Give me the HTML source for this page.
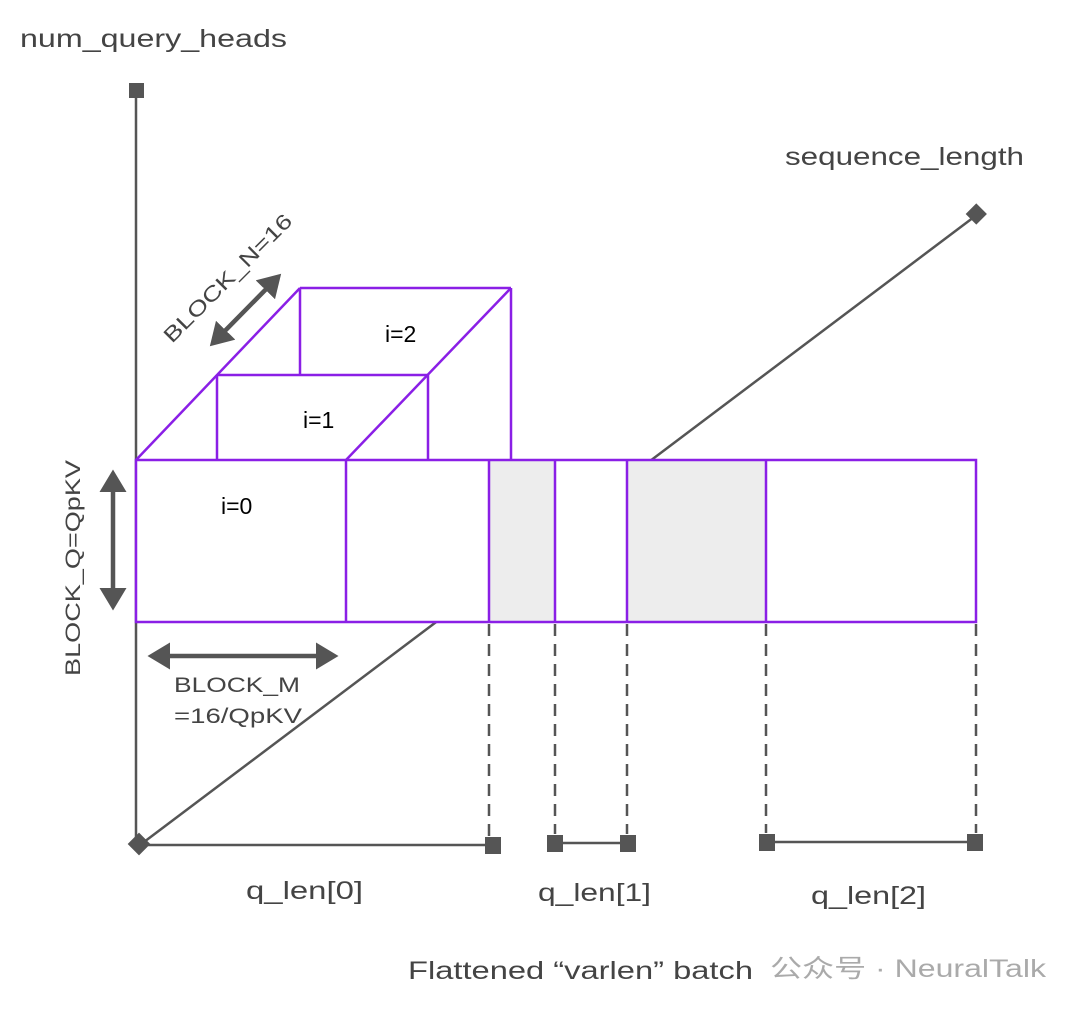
<!DOCTYPE html>
<html><head><style>body{margin:0;background:#fff}svg{display:block}</style></head><body>
<svg width="1080" height="1011" xmlns="http://www.w3.org/2000/svg" font-family="Liberation Sans, DejaVu Sans, sans-serif">
<defs>
<marker id="ah" markerWidth="6" markerHeight="6" refX="4" refY="3" orient="auto-start-reverse" markerUnits="strokeWidth"><path d="M0,0 L5,3 L0,6 z" fill="#555"/></marker>
</defs>
<g stroke="#555" stroke-width="2.5" fill="none">
<line x1="136" y1="90" x2="136" y2="845"/>
<line x1="140" y1="845" x2="978" y2="214"/>
<line x1="140" y1="845" x2="492" y2="845"/>
<line x1="555" y1="843" x2="628" y2="843"/>
<line x1="767" y1="842" x2="975" y2="842"/>
</g>
<g fill="#555">
<rect x="129" y="83" width="15" height="15"/>
<rect x="131" y="836" width="16" height="16" transform="rotate(45 139 844)"/>
<rect x="485" y="837" width="16" height="17"/>
<rect x="547" y="835" width="16" height="17"/>
<rect x="620" y="835" width="16" height="17"/>
<rect x="759" y="834" width="16" height="17"/>
<rect x="967" y="834" width="16" height="17"/>
<rect x="969" y="207" width="15" height="15" transform="rotate(45 977 214)"/>
</g>
<g stroke="#555" stroke-width="2.5" stroke-dasharray="12,8">
<line x1="489" y1="624" x2="489" y2="836"/>
<line x1="555" y1="624" x2="555" y2="834"/>
<line x1="627" y1="624" x2="627" y2="834"/>
<line x1="766" y1="624" x2="766" y2="833"/>
<line x1="976" y1="624" x2="976" y2="833"/>
</g>
<rect x="136" y="460" width="840" height="162" fill="#fff"/>
<rect x="489" y="460" width="66" height="162" fill="#ededed"/>
<rect x="627" y="460" width="139" height="162" fill="#ededed"/>
<g stroke="#8a1fe6" stroke-width="2.5" fill="none">
<rect x="136" y="460" width="840" height="162"/>
<line x1="346" y1="460" x2="346" y2="622"/>
<line x1="489" y1="460" x2="489" y2="622"/>
<line x1="555" y1="460" x2="555" y2="622"/>
<line x1="627" y1="460" x2="627" y2="622"/>
<line x1="766" y1="460" x2="766" y2="622"/>
<line x1="136" y1="460" x2="300" y2="288"/>
<line x1="346" y1="460" x2="511" y2="288"/>
<line x1="300" y1="288" x2="511" y2="288"/>
<line x1="217" y1="375" x2="428" y2="375"/>
<line x1="217" y1="375" x2="217" y2="460"/>
<line x1="428" y1="375" x2="428" y2="460"/>
<line x1="300" y1="288" x2="300" y2="375"/>
<line x1="511" y1="288" x2="511" y2="460"/>
</g>
<g stroke="#555" stroke-width="4.5" fill="none" marker-start="url(#ah)" marker-end="url(#ah)">
<line x1="113" y1="474" x2="113" y2="606"/>
<line x1="152" y1="656" x2="334" y2="656"/>
<line x1="213" y1="343" x2="278" y2="277"/>
</g>
<g font-size="23" fill="#000">
<text x="221" y="514">i=0</text>
<text x="303" y="428">i=1</text>
<text x="385" y="342">i=2</text>
</g>
<g font-size="25" fill="#444">
<text x="20" y="47" textLength="267" lengthAdjust="spacingAndGlyphs">num_query_heads</text>
<text x="785" y="165" textLength="239" lengthAdjust="spacingAndGlyphs">sequence_length</text>
<text x="246" y="899" textLength="117" lengthAdjust="spacingAndGlyphs">q_len[0]</text>
<text x="538" y="901" textLength="113" lengthAdjust="spacingAndGlyphs">q_len[1]</text>
<text x="811" y="904" textLength="115" lengthAdjust="spacingAndGlyphs">q_len[2]</text>
<text x="408" y="979" textLength="345" lengthAdjust="spacingAndGlyphs">Flattened “varlen” batch</text>
<text x="174" y="692" font-size="21" textLength="126" lengthAdjust="spacingAndGlyphs">BLOCK_M</text>
<text x="174" y="723" font-size="21" textLength="128" lengthAdjust="spacingAndGlyphs">=16/QpKV</text>
<text transform="translate(80,676) rotate(-90)" font-size="21" textLength="216" lengthAdjust="spacingAndGlyphs">BLOCK_Q=QpKV</text>
<text transform="translate(172,344) rotate(-45)" font-size="21" textLength="172" lengthAdjust="spacingAndGlyphs">BLOCK_N=16</text>
</g>
<text x="770" y="977" font-size="25" fill="#aaa" textLength="276" lengthAdjust="spacingAndGlyphs" font-family="Liberation Sans, Noto Sans CJK SC, sans-serif">公众号 · NeuralTalk</text>
</svg>
</body></html>
